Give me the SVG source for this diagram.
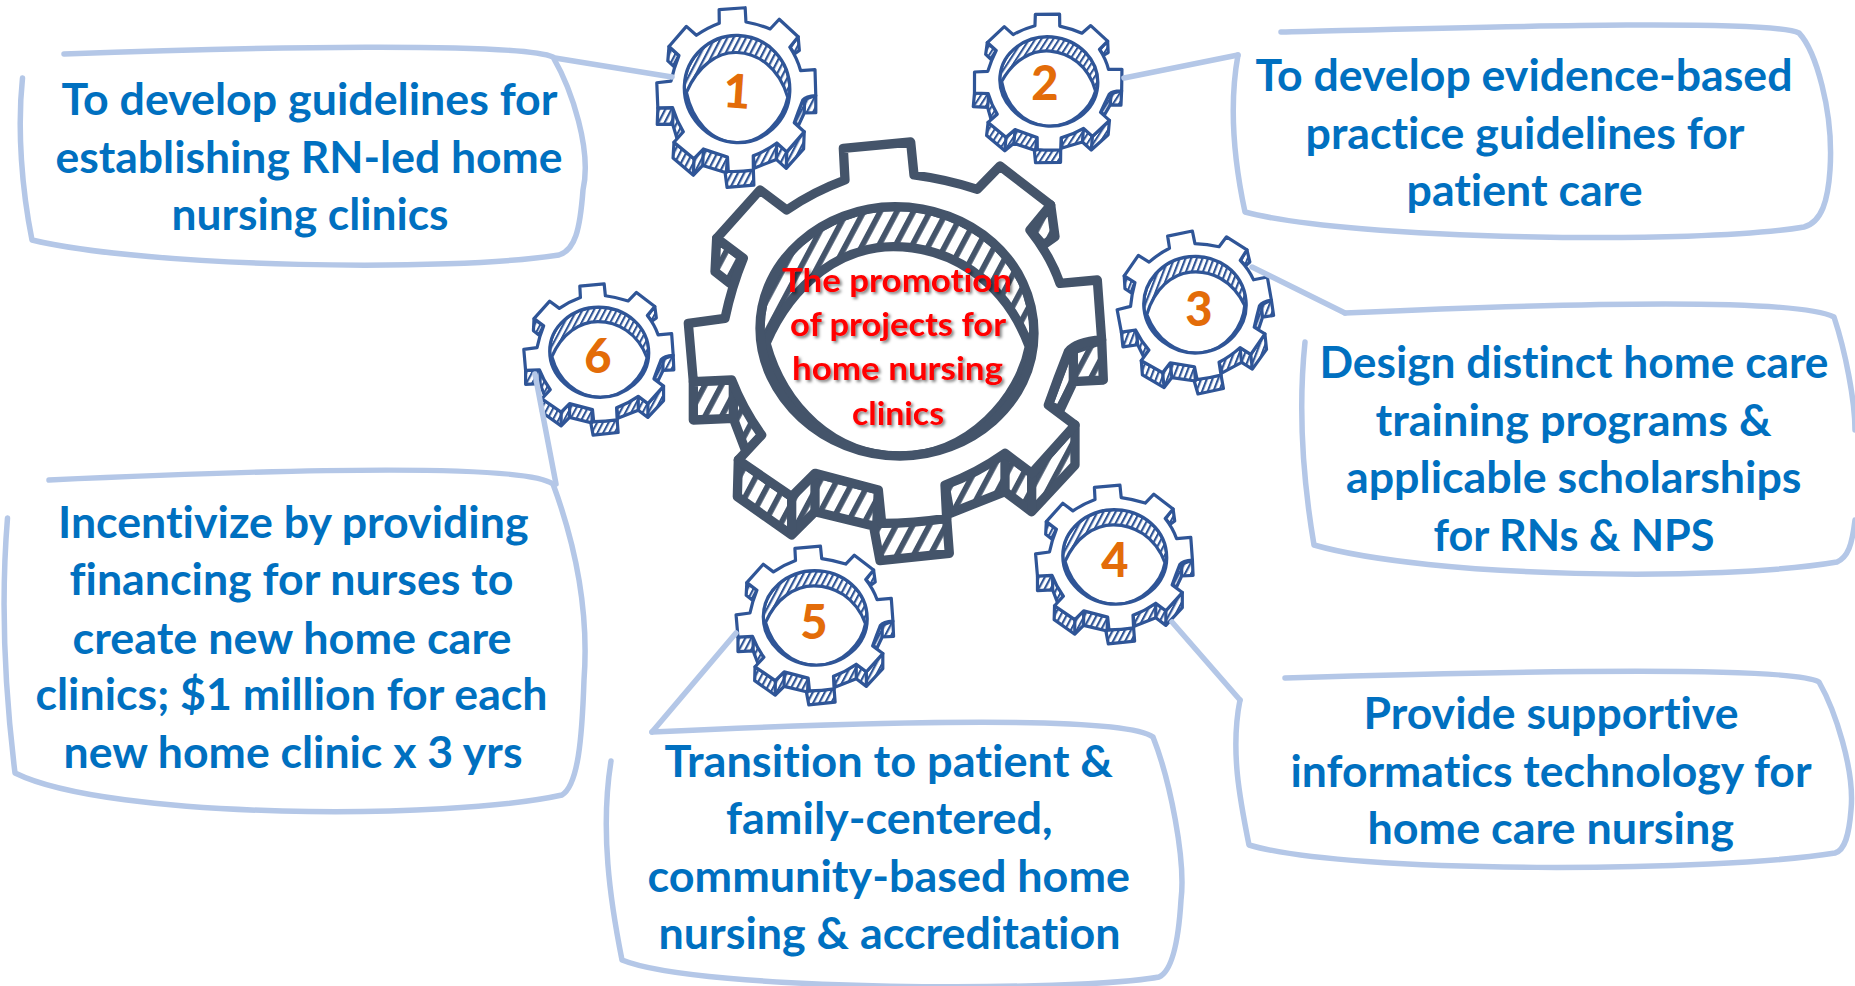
<svg xmlns="http://www.w3.org/2000/svg" width="1855" height="986" viewBox="0 0 1855 986">
<style>
text{font-family:"Lato","Liberation Sans",sans-serif;font-weight:700;font-variant-ligatures:none}
.t{font-size:43px;fill:#0070C0;transform:translate(-1.500px,1.200px)}
.c{font-size:33px;fill:#FF0000;filter:url(#sh);transform:translate(-1px,.5px)}
.n{font-size:47px;fill:#E36C09;text-anchor:middle;font-weight:900}
.b{fill:none;stroke:#B4C7E7;stroke-width:5.500;stroke-linecap:round;stroke-linejoin:round}
.small{stroke:#2F5597;stroke-width:3.200;stroke-linejoin:round}
.big{stroke:#44546A;stroke-width:9.300;stroke-linejoin:round}
</style>
<defs>
<filter id="sh" x="-10%" y="-20%" width="120%" height="150%"><feDropShadow dx="2" dy="2" stdDeviation="1.500" flood-color="#000" flood-opacity="0.5"/></filter>
<pattern id="hb" patternUnits="userSpaceOnUse" width="42" height="42" patternTransform="rotate(28)"><rect width="42" height="42" fill="#fff"/><rect width="17" height="42" fill="#2F5597"/></pattern>
<pattern id="hd" patternUnits="userSpaceOnUse" width="44" height="44" patternTransform="rotate(28)"><rect width="44" height="44" fill="#fff"/><rect width="17" height="44" fill="#44546A"/></pattern>
<path id="ext" vector-effect="non-scaling-stroke" d="M1325,660L1330,780L1240,785L1200,870L1165,855L1225,695ZM1245,915L1245,1035L1115,1175L1035,1115L870,1180L855,1095L1035,1000L1115,1060ZM860,1195L868,1300L660,1322L640,1215L665,1210ZM655,1110L650,1220L465,1175L395,1245L232,1130L235,1020L395,1130L465,1060ZM100,785L100,900L220,895L260,1000L305,945L215,780ZM170,355L165,455L210,490L250,415ZM1172,255L1185,350L1150,375L1110,330Z"/>
<path id="edges" vector-effect="non-scaling-stroke" fill="none" d="M1115,1060V1175M1035,1000V1115M395,1130V1245M465,1060V1175M1240,690V785M220,785V895"/>
<path id="hole" vector-effect="non-scaling-stroke" d="M300,625C300,420 490,260 705,260C930,260 1122,420 1122,640C1122,850 930,1008 720,1008C490,1008 300,830 300,625Z"/>
<path id="lens" vector-effect="non-scaling-stroke" d="M318,670C400,480 550,380 700,380C860,380 1030,470 1108,680C1080,830 930,1008 720,1008C520,1008 370,860 318,670Z"/>
<path id="face" vector-effect="non-scaling-stroke" fill-rule="evenodd" d="M550,85L752,66L762,165Q860,178 952,208L1020,138L1172,255L1110,330Q1170,405 1200,490L1312,480L1325,660Q1250,665 1225,695Q1195,770 1165,855L1245,915L1115,1060L1035,1000Q950,1060 855,1095L860,1195Q760,1210 665,1210L655,1110Q560,1085 465,1060L395,1130L235,1020L305,945Q250,870 215,780L100,785L85,610L195,595Q215,500 250,415L170,355L300,210L380,270Q460,215 555,180ZM300,625C300,420 490,260 705,260C930,260 1122,420 1122,640C1122,850 930,1008 720,1008C490,1008 300,830 300,625Z"/>
<g id="gb" class="small">
<use href="#ext" fill="url(#hb)"/><use href="#edges"/><use href="#hole" fill="url(#hb)"/><use href="#lens" fill="#fff"/><use href="#face" fill="#fff"/>
</g>
</defs>
<rect width="1855" height="986" fill="#fff"/>

<g id="gear-main" class="big" transform="translate(660,120) scale(.33333)">
<use href="#ext" fill="url(#hd)"/><use href="#edges"/><use href="#hole" fill="url(#hd)"/><use href="#lens" fill="#fff"/><use href="#face" fill="#fff"/>
</g>
<g id="gear-1"><use href="#gb" transform="translate(736,97) rotate(2) scale(.1285,.1435) translate(-705,-690)"/><text class="n" x="737" y="108" transform="rotate(4 737 92)">1</text></g>
<g id="gear-2"><use href="#gb" transform="translate(1047.500,88) rotate(5) scale(.1195,.1195) translate(-705,-690)"/><text class="n" x="1045" y="100">2</text></g>
<g id="gear-3"><use href="#gb" transform="translate(1195,312) rotate(-6) scale(.1245,.1295) translate(-705,-690)"/><text class="n" x="1199" y="326">3</text></g>
<g id="gear-4"><use href="#gb" transform="translate(1114,564) scale(.1265,.1265) translate(-705,-690)"/><text class="n" x="1115" y="577">4</text></g>
<g id="gear-5"><use href="#gb" transform="translate(814.500,625) scale(.1265,.1265) translate(-705,-690)"/><text class="n" x="814" y="639">5</text></g>
<g id="gear-6"><use href="#gb" transform="translate(598.500,359) scale(.1205,.1205) translate(-705,-690)"/><text class="n" x="598" y="373">6</text></g>

<g id="connectors" class="b">
<path d="M555,58L672,77"/>
<path d="M1238,55L1124,78"/>
<path d="M1252,267L1345,313"/>
<path d="M1240,700L1172,622"/>
<path d="M736,633L652,732"/>
<path d="M535,374L556,484"/>
</g>

<g id="callout-center"><text class="c" x="783" y="291" textLength="230" lengthAdjust="spacingAndGlyphs">The promotion</text><text class="c" x="791" y="335" textLength="216" lengthAdjust="spacingAndGlyphs">of projects for</text><text class="c" x="793" y="379" textLength="211" lengthAdjust="spacingAndGlyphs">home nursing</text><text class="c" x="853" y="424" textLength="92" lengthAdjust="spacingAndGlyphs">clinics</text></g>

<g id="callout-1"><path class="b" d="M64,54C250,47 520,42 553,57C572,90 592,150 583,190C580,230 575,250 559,255C450,272 150,268 32,240C22,190 17,130 22.500,78"/>
<text class="t" x="63" y="114" textLength="496" lengthAdjust="spacingAndGlyphs">To develop guidelines for</text><text class="t" x="57" y="172" textLength="507" lengthAdjust="spacingAndGlyphs">establishing RN-led home</text><text class="t" x="173" y="229" textLength="277" lengthAdjust="spacingAndGlyphs">nursing clinics</text></g>

<g id="callout-2"><path class="b" d="M1281,32C1450,28 1770,18 1799,33C1815,50 1834,110 1830,170C1828,200 1822,222 1804,227C1700,245 1350,240 1245,212C1236,170 1228,110 1238,55"/>
<text class="t" x="1257" y="90" textLength="537" lengthAdjust="spacingAndGlyphs">To develop evidence-based</text><text class="t" x="1307" y="148" textLength="439" lengthAdjust="spacingAndGlyphs">practice guidelines for</text><text class="t" x="1408" y="205" textLength="236" lengthAdjust="spacingAndGlyphs">patient care</text></g>

<g id="callout-3"><path class="b" d="M1345,313C1500,306 1790,295 1834,317C1845,350 1855,400 1855,430M1855,520C1852,545 1848,557 1837,562C1720,582 1430,578 1314,545C1303,480 1298,410 1305,342"/>
<text class="t" x="1321" y="377" textLength="509" lengthAdjust="spacingAndGlyphs">Design distinct home care</text><text class="t" x="1377" y="435" textLength="396" lengthAdjust="spacingAndGlyphs">training programs &amp;</text><text class="t" x="1347.500" y="492" textLength="455.500" lengthAdjust="spacingAndGlyphs">applicable scholarships</text><text class="t" x="1435" y="550" textLength="281" lengthAdjust="spacingAndGlyphs">for RNs &amp; NPS</text></g>

<g id="callout-4"><path class="b" d="M1285,678C1450,673 1790,664 1819,682C1835,710 1855,770 1851,810C1849,835 1845,850 1835,853C1720,872 1350,875 1249,845C1240,800 1230,750 1240,700"/>
<text class="t" x="1365" y="728" textLength="375" lengthAdjust="spacingAndGlyphs">Provide supportive</text><text class="t" x="1292" y="786" textLength="521" lengthAdjust="spacingAndGlyphs">informatics technology for</text><text class="t" x="1369" y="843" textLength="366.500" lengthAdjust="spacingAndGlyphs">home care nursing</text></g>

<g id="callout-5"><path class="b" d="M652,732C800,725 1120,712 1153,737C1170,780 1186,860 1181,900C1178,950 1170,972 1159,977C1080,992 700,992 622,960C610,900 600,830 611,761"/>
<text class="t" x="666" y="776" textLength="448.500" lengthAdjust="spacingAndGlyphs">Transition to patient &amp;</text><text class="t" x="727.500" y="833" textLength="326.500" lengthAdjust="spacingAndGlyphs">family-centered,</text><text class="t" x="649" y="891" textLength="482.500" lengthAdjust="spacingAndGlyphs">community-based home</text><text class="t" x="660" y="948" textLength="462" lengthAdjust="spacingAndGlyphs">nursing &amp; accreditation</text></g>

<g id="callout-6"><path class="b" d="M49,480C200,473 520,460 553,484C570,530 590,600 584,680C582,740 578,785 562,795C450,820 110,820 15,773C6,700 0,610 7.500,518"/>
<text class="t" x="59.500" y="537" textLength="470.500" lengthAdjust="spacingAndGlyphs">Incentivize by providing</text><text class="t" x="71" y="594" textLength="444" lengthAdjust="spacingAndGlyphs">financing for nurses to</text><text class="t" x="74" y="653" textLength="439" lengthAdjust="spacingAndGlyphs">create new home care</text><text class="t" x="37" y="709" textLength="512" lengthAdjust="spacingAndGlyphs">clinics; $1 million for each</text><text class="t" x="65" y="767" textLength="459" lengthAdjust="spacingAndGlyphs">new home clinic x 3 yrs</text></g>
</svg>
